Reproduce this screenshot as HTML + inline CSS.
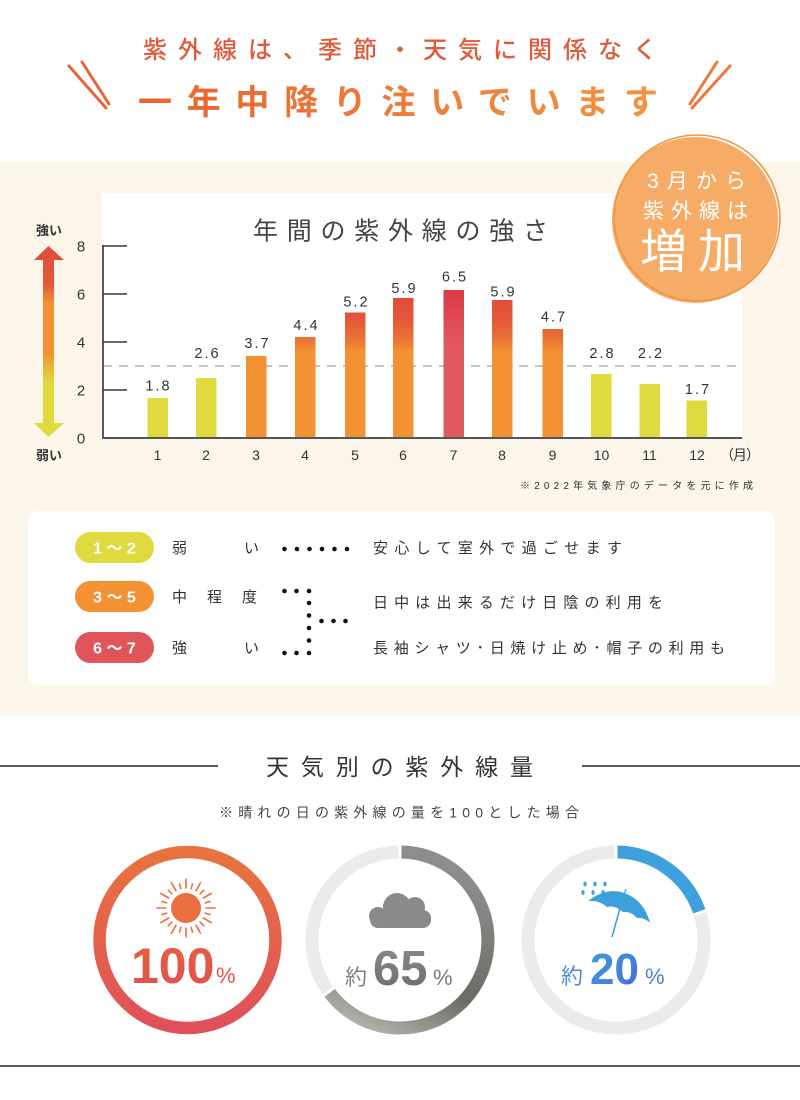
<!DOCTYPE html>
<html><head><meta charset="utf-8">
<style>
html,body{margin:0;padding:0;background:#fff;}
svg{display:block;}
text{font-family:"Liberation Sans","Noto Sans CJK JP",sans-serif;}
</style></head>
<body>
<svg width="800" height="1100" viewBox="0 0 800 1100" xmlns="http://www.w3.org/2000/svg">
<defs>
  <linearGradient id="hdr" x1="0" y1="0" x2="1" y2="0">
    <stop offset="0" stop-color="#e9642f"/><stop offset="1" stop-color="#f19442"/>
  </linearGradient>
  <linearGradient id="arrow" gradientUnits="userSpaceOnUse" x1="0" y1="246" x2="0" y2="437">
    <stop offset="0" stop-color="#e04b3c"/>
    <stop offset="0.2" stop-color="#e2583a"/>
    <stop offset="0.3" stop-color="#f39232"/>
    <stop offset="0.56" stop-color="#f39232"/>
    <stop offset="0.72" stop-color="#dfdb3c"/>
    <stop offset="1" stop-color="#dfdb3c"/>
  </linearGradient>
  <linearGradient id="barR" gradientUnits="userSpaceOnUse" x1="0" y1="298" x2="0" y2="438">
    <stop offset="0" stop-color="#e04c3a"/>
    <stop offset="0.16" stop-color="#e25a3a"/>
    <stop offset="0.3" stop-color="#ea7436"/>
    <stop offset="0.38" stop-color="#f39232"/>
    <stop offset="1" stop-color="#f39232"/>
  </linearGradient>
  <linearGradient id="bar7" gradientUnits="userSpaceOnUse" x1="0" y1="290" x2="0" y2="438">
    <stop offset="0" stop-color="#dc3a44"/>
    <stop offset="0.38" stop-color="#e05860"/>
    <stop offset="1" stop-color="#e05860"/>
  </linearGradient>
  <linearGradient id="d1" x1="0" y1="0" x2="0" y2="1">
    <stop offset="0" stop-color="#e8733e"/><stop offset="1" stop-color="#e0505a"/>
  </linearGradient>
  <linearGradient id="d2" gradientUnits="userSpaceOnUse" x1="420" y1="850" x2="340" y2="1030">
    <stop offset="0" stop-color="#8e8e8e"/>
    <stop offset="0.6" stop-color="#6c6a64"/>
    <stop offset="1" stop-color="#bdbcb5"/>
  </linearGradient>
  <linearGradient id="t1" x1="0" y1="0" x2="0" y2="1">
    <stop offset="0" stop-color="#e8603e"/><stop offset="1" stop-color="#df4f50"/>
  </linearGradient>
  <linearGradient id="t2" x1="0" y1="0" x2="0" y2="1">
    <stop offset="0" stop-color="#8a8a8a"/><stop offset="1" stop-color="#6e6c68"/>
  </linearGradient>
  <linearGradient id="t3" x1="0" y1="0" x2="1" y2="1">
    <stop offset="0" stop-color="#3aa2de"/><stop offset="1" stop-color="#4a68d6"/>
  </linearGradient>
</defs>

<!-- header -->
<text x="143" y="58" font-size="24" fill="#e05a3c" textLength="514" lengthAdjust="spacing" font-weight="500">紫外線は、季節・天気に関係なく</text>
<text x="138" y="114" font-size="34" fill="url(#hdr)" font-weight="bold" textLength="520" lengthAdjust="spacing">一年中降り注いでいます</text>
<g stroke="#e9643a" stroke-width="3" stroke-linecap="round">
  <line x1="69" y1="66" x2="106" y2="108"/>
  <line x1="82" y1="62" x2="109" y2="104"/>
</g>
<g stroke="#ee7a3a" stroke-width="3" stroke-linecap="round">
  <line x1="730" y1="66" x2="692" y2="108"/>
  <line x1="717" y1="62" x2="690" y2="104"/>
</g>

<!-- cream section -->
<rect x="0" y="162" width="800" height="554" fill="#fcf5e9"/>
<rect x="102" y="193" width="640" height="245" fill="#ffffff"/>

<!-- badge -->
<circle cx="695" cy="220" r="83" fill="#f6ab66"/>
<circle cx="697" cy="218" r="83" fill="none" stroke="#ee953f" stroke-width="1.5"/>
<text x="647" y="188" font-size="21" fill="#fff" textLength="99" lengthAdjust="spacing">3月から</text>
<text x="643" y="218" font-size="21" fill="#fff" textLength="105" lengthAdjust="spacing">紫外線は</text>
<text x="640" y="268" font-size="47" fill="#fff" textLength="105" lengthAdjust="spacing">増加</text>

<!-- chart title -->
<text x="253" y="239.5" font-size="25" fill="#444" textLength="295" lengthAdjust="spacing">年間の紫外線の強さ</text>

<!-- arrow -->
<polygon points="48.5,246 64,260 54,260 54,423 64,423 48.5,437 34,423 43,423 43,260 34,260" fill="url(#arrow)"/>
<text x="36" y="235" font-size="13" fill="#333" font-weight="bold">強い</text>
<text x="36" y="460" font-size="13" fill="#333" font-weight="bold">弱い</text>

<!-- axes -->
<g fill="#333" font-size="15" text-anchor="middle">
  <text x="81" y="251.5">8</text>
  <text x="81" y="299.5">6</text>
  <text x="81" y="347.5">4</text>
  <text x="81" y="395.5">2</text>
  <text x="81" y="443.5">0</text>
</g>
<line x1="103" y1="366" x2="742" y2="366" stroke="#888" stroke-width="1" stroke-dasharray="9 7"/>

<!-- bars -->
<rect x="147.5" y="398" width="20.5" height="40" fill="#dfdb3e"/>
<rect x="196" y="378" width="20.5" height="60" fill="#dfdb3e"/>
<rect x="246" y="356" width="20.5" height="82" fill="#f39232"/>
<rect x="295" y="337" width="20.5" height="101" fill="url(#barR)"/>
<rect x="345" y="312.5" width="20.5" height="125.5" fill="url(#barR)"/>
<rect x="393" y="298" width="20.5" height="140" fill="url(#barR)"/>
<rect x="443.5" y="290" width="20.5" height="148" fill="url(#bar7)"/>
<rect x="492" y="300" width="20.5" height="138" fill="url(#barR)"/>
<rect x="542.5" y="329" width="20.5" height="109" fill="url(#barR)"/>
<rect x="591" y="374" width="20.5" height="64" fill="#dfdb3e"/>
<rect x="639.5" y="384" width="20.5" height="54" fill="#dfdb3e"/>
<rect x="686.5" y="400.5" width="20.5" height="37.5" fill="#dfdb3e"/>

<g stroke="#333" stroke-width="1.6">
  <line x1="103" y1="245" x2="103" y2="438"/>
  <line x1="103" y1="246" x2="127" y2="246"/>
  <line x1="103" y1="294" x2="127" y2="294"/>
  <line x1="103" y1="342" x2="127" y2="342"/>
  <line x1="103" y1="390" x2="127" y2="390"/>
</g>
<line x1="102" y1="438" x2="742" y2="438" stroke="#555" stroke-width="2"/>

<!-- value labels -->
<g fill="#333" font-size="14.5" text-anchor="middle" letter-spacing="2">
  <text x="158.5" y="390.7">1.8</text>
  <text x="207.5" y="358">2.6</text>
  <text x="257.5" y="348">3.7</text>
  <text x="306.5" y="330">4.4</text>
  <text x="356.5" y="306.7">5.2</text>
  <text x="404.5" y="293">5.9</text>
  <text x="455" y="281.7">6.5</text>
  <text x="503.5" y="296.7">5.9</text>
  <text x="554" y="321.7">4.7</text>
  <text x="602.5" y="358">2.8</text>
  <text x="651" y="358">2.2</text>
  <text x="698" y="394">1.7</text>
</g>

<!-- month labels -->
<g fill="#333" font-size="14" text-anchor="middle">
  <text x="157.5" y="460">1</text>
  <text x="206" y="460">2</text>
  <text x="256" y="460">3</text>
  <text x="305" y="460">4</text>
  <text x="355" y="460">5</text>
  <text x="403" y="460">6</text>
  <text x="453.5" y="460">7</text>
  <text x="502" y="460">8</text>
  <text x="552.5" y="460">9</text>
  <text x="601.5" y="460">10</text>
  <text x="649.5" y="460">11</text>
  <text x="697" y="460">12</text>
</g>
<text x="720" y="460" font-size="14" fill="#333" textLength="40" lengthAdjust="spacing">（月）</text>
<text x="520" y="489" font-size="10" fill="#333" textLength="233" lengthAdjust="spacing">※2022年気象庁のデータを元に作成</text>

<!-- legend box -->
<rect x="28" y="511" width="747" height="174" rx="10" fill="#ffffff"/>
<rect x="75" y="532" width="79" height="31" rx="15.5" fill="#dfdb3e"/>
<rect x="75" y="581" width="79" height="31" rx="15.5" fill="#f39232"/>
<rect x="75" y="632" width="79" height="31" rx="15.5" fill="#e0555a"/>
<g fill="#fff" font-size="16" font-weight="bold" text-anchor="middle">
  <text x="114.5" y="553.5">1 ～ 2</text>
  <text x="114.5" y="602.5">3 ～ 5</text>
  <text x="114.5" y="653.5">6 ～ 7</text>
</g>
<g fill="#333" font-size="15">
  <text x="172" y="553">弱</text>
  <text x="244" y="553">い</text>
  <text x="172" y="602">中</text>
  <text x="207" y="602">程</text>
  <text x="242" y="602">度</text>
  <text x="172" y="653">強</text>
  <text x="244" y="653">い</text>
</g>
<g fill="#111">
  <circle cx="284.5" cy="549" r="2.3"/><circle cx="297" cy="549" r="2.3"/><circle cx="309.5" cy="549" r="2.3"/>
  <circle cx="322" cy="549" r="2.3"/><circle cx="334.5" cy="549" r="2.3"/><circle cx="347" cy="549" r="2.3"/>
  <circle cx="284.5" cy="591" r="2.3"/><circle cx="296.5" cy="591" r="2.3"/><circle cx="309" cy="591" r="2.3"/>
  <circle cx="309" cy="603" r="2.3"/><circle cx="309" cy="615.5" r="2.3"/><circle cx="309" cy="628" r="2.3"/>
  <circle cx="309" cy="640.5" r="2.3"/><circle cx="309" cy="653" r="2.3"/>
  <circle cx="321.5" cy="621" r="2.3"/><circle cx="333.5" cy="621" r="2.3"/><circle cx="345.5" cy="621" r="2.3"/>
  <circle cx="284.5" cy="653" r="2.3"/><circle cx="296.5" cy="653" r="2.3"/>
</g>
<g fill="#333" font-size="15">
  <text x="373" y="553" textLength="249" lengthAdjust="spacing">安心して室外で過ごせます</text>
  <text x="373" y="607.5" textLength="290" lengthAdjust="spacing">日中は出来るだけ日陰の利用を</text>
  <text x="373" y="653" textLength="352" lengthAdjust="spacing">長袖シャツ･日焼け止め･帽子の利用も</text>
</g>

<!-- section 2 title -->
<line x1="0" y1="766" x2="218" y2="766" stroke="#222" stroke-width="1.5"/>
<line x1="582" y1="766" x2="800" y2="766" stroke="#222" stroke-width="1.5"/>
<text x="266" y="775" font-size="23" fill="#333" textLength="267" lengthAdjust="spacing">天気別の紫外線量</text>
<text x="219" y="817.5" font-size="14" fill="#444" textLength="360" lengthAdjust="spacing">※晴れの日の紫外線の量を100とした場合</text>

<!-- donut 1 -->
<circle cx="187.5" cy="940" r="88" fill="none" stroke="url(#d1)" stroke-width="12.5"/>
<circle cx="186" cy="908" r="15" fill="#e8703e"/>
<g stroke="#e8703e" stroke-width="1.6" stroke-linecap="round">
  <line x1="186" y1="888" x2="186" y2="879" transform="rotate(0 186 908)"/>
  <line x1="186" y1="888" x2="186" y2="883" transform="rotate(15 186 908)"/>
  <line x1="186" y1="888" x2="186" y2="879" transform="rotate(30 186 908)"/>
  <line x1="186" y1="888" x2="186" y2="883" transform="rotate(45 186 908)"/>
  <line x1="186" y1="888" x2="186" y2="879" transform="rotate(60 186 908)"/>
  <line x1="186" y1="888" x2="186" y2="883" transform="rotate(75 186 908)"/>
  <line x1="186" y1="888" x2="186" y2="879" transform="rotate(90 186 908)"/>
  <line x1="186" y1="888" x2="186" y2="883" transform="rotate(105 186 908)"/>
  <line x1="186" y1="888" x2="186" y2="879" transform="rotate(120 186 908)"/>
  <line x1="186" y1="888" x2="186" y2="883" transform="rotate(135 186 908)"/>
  <line x1="186" y1="888" x2="186" y2="879" transform="rotate(150 186 908)"/>
  <line x1="186" y1="888" x2="186" y2="883" transform="rotate(165 186 908)"/>
  <line x1="186" y1="888" x2="186" y2="879" transform="rotate(180 186 908)"/>
  <line x1="186" y1="888" x2="186" y2="883" transform="rotate(195 186 908)"/>
  <line x1="186" y1="888" x2="186" y2="879" transform="rotate(210 186 908)"/>
  <line x1="186" y1="888" x2="186" y2="883" transform="rotate(225 186 908)"/>
  <line x1="186" y1="888" x2="186" y2="879" transform="rotate(240 186 908)"/>
  <line x1="186" y1="888" x2="186" y2="883" transform="rotate(255 186 908)"/>
  <line x1="186" y1="888" x2="186" y2="879" transform="rotate(270 186 908)"/>
  <line x1="186" y1="888" x2="186" y2="883" transform="rotate(285 186 908)"/>
  <line x1="186" y1="888" x2="186" y2="879" transform="rotate(300 186 908)"/>
  <line x1="186" y1="888" x2="186" y2="883" transform="rotate(315 186 908)"/>
  <line x1="186" y1="888" x2="186" y2="879" transform="rotate(330 186 908)"/>
  <line x1="186" y1="888" x2="186" y2="883" transform="rotate(345 186 908)"/>
</g>
<text x="131" y="983" font-size="50" font-weight="bold" fill="url(#t1)">100</text>
<text x="216" y="983" font-size="22" fill="#e0564c">%</text>

<!-- donut 2 -->
<path d="M327.91 990.47 A88 88 0 0 1 398.46 852.01" fill="none" stroke="#ebebeb" stroke-width="13"/>
<path d="M401.54 852.01 A88 88 0 1 1 329.72 992.96" fill="none" stroke="url(#d2)" stroke-width="13"/>
<g fill="#8a8a8a">
  <circle cx="378" cy="916" r="9"/>
  <circle cx="397" cy="907" r="14"/>
  <circle cx="415" cy="907" r="10"/>
  <circle cx="423" cy="918" r="8"/>
  <rect x="370" y="912" width="61" height="16" rx="8"/>
</g>
<text x="345" y="985" font-size="22" fill="#808080">約</text>
<text x="373" y="985" font-size="49" font-weight="bold" fill="url(#t2)">65</text>
<text x="433" y="985" font-size="22" fill="#7a7a7a">%</text>

<!-- donut 3 -->
<path d="M700.15 914.27 A88 88 0 1 1 614.46 852.01" fill="none" stroke="#ebebeb" stroke-width="13"/>
<path d="M617.54 852.01 A88 88 0 0 1 699.21 911.35" fill="none" stroke="#3ea0dd" stroke-width="13"/>
<g fill="#3ba0dc">
  <ellipse cx="585" cy="884" rx="1.6" ry="2.4"/><ellipse cx="595" cy="884" rx="1.6" ry="2.4"/><ellipse cx="605" cy="884" rx="1.6" ry="2.4"/>
  <ellipse cx="583" cy="892.5" rx="1.6" ry="2.4"/><ellipse cx="593" cy="892.5" rx="1.6" ry="2.4"/><ellipse cx="603" cy="892.5" rx="1.6" ry="2.4"/>
  <path d="M588 901 Q612 883 634 898 Q646 907 650 923 Q644 917 637 918 Q631 911 623 912 Q615 905 607 907 Q599 900 588 901 Z"/>
</g>
<line x1="624" y1="894" x2="626" y2="889" stroke="#3ba0dc" stroke-width="1.2"/>
<line x1="620" y1="908" x2="612" y2="937" stroke="#3ba0dc" stroke-width="1.5"/>
<text x="561" y="984" font-size="22" fill="#4a8ad8">約</text>
<text x="590" y="984" font-size="44" font-weight="bold" fill="url(#t3)">20</text>
<text x="645" y="984" font-size="22" fill="#4a80d8">%</text>

<line x1="0" y1="1066" x2="800" y2="1066" stroke="#222" stroke-width="1.5"/>
</svg>
</body></html>
